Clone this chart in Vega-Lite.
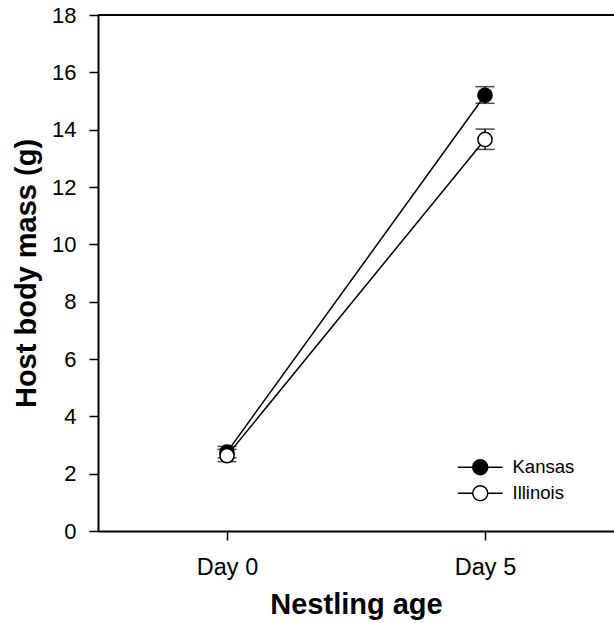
{
  "$schema": "https://vega.github.io/schema/vega-lite/v6.json",
  "width": 516,
  "height": 516,
  "autosize": "none",
  "padding": {"left": 98, "top": 15, "right": 0, "bottom": 92},
  "background": "white",
  "config": {
    "font": "Liberation Sans",
    "view": {"stroke": null},
    "axis": {
      "domainColor": "black", "domainWidth": 2, "tickColor": "black", "tickWidth": 1.5,
      "labelColor": "black", "titleColor": "black", "grid": false,
      "labelFont": "Liberation Sans", "titleFont": "Liberation Sans",
      "titleFontSize": 29, "titleFontWeight": "bold", "tickSize": 9
    },
    "axisY": {"labelFontSize": 22, "labelPadding": 13, "titlePadding": 10},
    "axisX": {"labelFontSize": 23.5, "labelPadding": 15, "titlePadding": 12, "labelAngle": 0}
  },
  "data": {
    "values": [
      {"age": "Day 0", "site": "Kansas", "mean": 2.75, "lo": 2.55, "hi": 2.95},
      {"age": "Day 5", "site": "Kansas", "mean": 15.2, "lo": 14.92, "hi": 15.5},
      {"age": "Day 0", "site": "Illinois", "mean": 2.63, "lo": 2.42, "hi": 2.85},
      {"age": "Day 5", "site": "Illinois", "mean": 13.66, "lo": 13.31, "hi": 14.02}
    ]
  },
  "encoding": {
    "x": {
      "field": "age", "type": "ordinal",
      "scale": {"type": "point", "padding": 0.5},
      "axis": {"title": "Nestling age"}
    }
  },
  "layer": [
    {
      "mark": {"type": "line", "color": "black", "strokeWidth": 1.5},
      "encoding": {
        "y": {"field": "mean", "type": "quantitative",
          "scale": {"domain": [0, 18], "nice": false, "zero": true},
          "axis": {"title": "Host body mass (g)", "values": [0, 2, 4, 6, 8, 10, 12, 14, 16, 18], "labelFontSize": 22}},
        "detail": {"field": "site"}
      }
    },
    {
      "mark": {"type": "rule", "color": "black", "strokeWidth": 2},
      "encoding": {"x": null, "y": {"datum": 18}}
    },
    {
      "mark": {"type": "rule", "color": "black", "strokeWidth": 1.5},
      "encoding": {"y": {"field": "lo", "type": "quantitative"}, "y2": {"field": "hi"}}
    },
    {
      "mark": {"type": "tick", "color": "black", "size": 19, "thickness": 1.5},
      "encoding": {"y": {"field": "lo", "type": "quantitative"}}
    },
    {
      "mark": {"type": "tick", "color": "black", "size": 19, "thickness": 1.5},
      "encoding": {"y": {"field": "hi", "type": "quantitative"}}
    },
    {
      "mark": {"type": "point", "shape": "circle", "size": 200, "stroke": "black", "strokeWidth": 1.5, "opacity": 1, "filled": false},
      "encoding": {
        "y": {"field": "mean", "type": "quantitative"},
        "fill": {
          "field": "site", "type": "nominal",
          "scale": {"domain": ["Kansas", "Illinois"], "range": ["black", "white"]},
          "legend": {
            "title": null, "orient": "none", "legendX": 373, "legendY": 443,
            "symbolType": "M-2.8,0H-0.94M0.94,0H2.8M-0.94,0A0.94,0.94 0 1,0 0.94,0A0.94,0.94 0 1,0 -0.94,0Z",
            "symbolSize": 256, "symbolStrokeColor": "black", "symbolStrokeWidth": 1.5, "symbolOpacity": 1,
            "labelFontSize": 18.5, "labelColor": "black", "labelOffset": 23, "rowPadding": 4, "labelFont": "Liberation Sans"
          }
        }
      }
    }
  ]
}
